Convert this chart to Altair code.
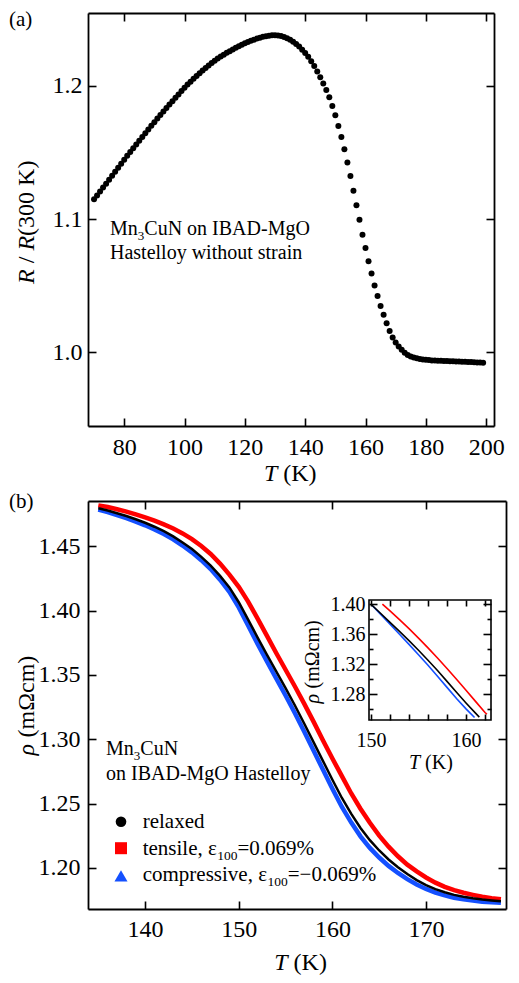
import altair as alt
import pandas as pd

FONT = "Liberation Serif"

# ---------------- panel (a): R/R(300 K) vs T ----------------
T_a = list(range(70, 200))
R_a = [
    1.1148, 1.1177, 1.1206, 1.1236, 1.1265, 1.1295, 1.1325, 1.1355, 1.1385, 1.1415,
    1.1445, 1.1474, 1.1503, 1.1531, 1.1559, 1.1587, 1.1615, 1.1643, 1.1671, 1.1699,
    1.1726, 1.1753, 1.1780, 1.1806, 1.1832, 1.1858, 1.1884, 1.1909, 1.1934, 1.1960,
    1.1985, 1.2008, 1.2030, 1.2052, 1.2073, 1.2094, 1.2114, 1.2133, 1.2152, 1.2170,
    1.2187, 1.2203, 1.2218, 1.2232, 1.2246, 1.2259, 1.2272, 1.2284, 1.2296, 1.2307,
    1.2318, 1.2328, 1.2337, 1.2345, 1.2353, 1.2360, 1.2366, 1.2371, 1.2375, 1.2378,
    1.2378, 1.2376, 1.2372, 1.2365, 1.2356, 1.2344, 1.2330, 1.2313, 1.2293, 1.2270,
    1.2245, 1.2216, 1.2183, 1.2147, 1.2107, 1.2063, 1.2017, 1.1968, 1.1913, 1.1848,
    1.1779, 1.1697, 1.1615, 1.1523, 1.1424, 1.1322, 1.1212, 1.1103, 1.0994, 1.0882,
    1.0783, 1.0683, 1.0591, 1.0502, 1.0422, 1.0348, 1.0283, 1.0219, 1.0161, 1.0112,
    1.0075, 1.0045, 1.0020, 0.9998, 0.9980, 0.9970, 0.9962, 0.9956, 0.9951, 0.9947,
    0.9944, 0.9942, 0.9940, 0.9939, 0.9938, 0.9937, 0.9936, 0.9935, 0.9934, 0.9933,
    0.9932, 0.9931, 0.9930, 0.9929, 0.9928, 0.9927, 0.9926, 0.9925, 0.9924, 0.9923,
]

# ---------------- panel (b): rho vs T ----------------
T_b = list(range(135, 179))
rho_relaxed = [
    1.4795, 1.4778, 1.4757, 1.4735, 1.4710, 1.4683, 1.4652, 1.4617, 1.4577, 1.4530,
    1.4478, 1.4418, 1.4350, 1.4270, 1.4180, 1.4065, 1.3930, 1.3792, 1.3658, 1.3527,
    1.3397, 1.3262, 1.3120, 1.2975, 1.2830, 1.2685, 1.2545, 1.2422, 1.2310, 1.2215,
    1.2135, 1.2065, 1.2005, 1.1952, 1.1905, 1.1866, 1.1835, 1.1810, 1.1790, 1.1775,
    1.1763, 1.1753, 1.1746, 1.1740,
]
rho_tensile = [
    1.4818, 1.4805, 1.4788, 1.4770, 1.4748, 1.4725, 1.4700, 1.4670, 1.4638, 1.4600,
    1.4555, 1.4502, 1.4440, 1.4365, 1.4280, 1.4185, 1.4070, 1.3940, 1.3805, 1.3670,
    1.3540, 1.3410, 1.3275, 1.3135, 1.2990, 1.2850, 1.2715, 1.2580, 1.2460, 1.2350,
    1.2250, 1.2165, 1.2090, 1.2025, 1.1972, 1.1925, 1.1885, 1.1852, 1.1826, 1.1806,
    1.1790, 1.1775, 1.1763, 1.1755,
]
rho_compressive = [
    1.4785, 1.4766, 1.4743, 1.4719, 1.4692, 1.4663, 1.4631, 1.4595, 1.4554, 1.4506,
    1.4453, 1.4392, 1.4323, 1.4240, 1.4145, 1.4025, 1.3885, 1.3742, 1.3606, 1.3472,
    1.3340, 1.3202, 1.3058, 1.2910, 1.2762, 1.2615, 1.2475, 1.2354, 1.2245, 1.2155,
    1.2080, 1.2015, 1.1960, 1.1912, 1.1870, 1.1836, 1.1808, 1.1786, 1.1768, 1.1755,
    1.1745, 1.1737, 1.1732, 1.1728,
]

# ---------------- inset ----------------
Tin_relaxed = [150, 151, 152, 153, 154, 155, 156, 157, 158, 159, 160, 161, 161.4]
rin_relaxed = [1.4000, 1.3880, 1.3758, 1.3638, 1.3515, 1.3388, 1.3255, 1.3117,
               1.2973, 1.2828, 1.2686, 1.2550, 1.2497]
Tin_tensile = [151.2, 152, 153, 154, 155, 156, 157, 158, 159, 160, 161, 162, 162.2]
rin_tensile = [1.4000, 1.3910, 1.3794, 1.3674, 1.3549, 1.3419, 1.3284, 1.3144,
               1.3001, 1.2855, 1.2707, 1.2559, 1.2535]
Tin_compressive = [150, 151, 152, 153, 154, 155, 156, 157, 158, 159, 160, 160.9]
rin_compressive = [1.4000, 1.3868, 1.3735, 1.3601, 1.3465, 1.3327, 1.3187, 1.3042,
                   1.2893, 1.2745, 1.2607, 1.2493]

# ---------------- ticks ----------------
xticks_a = [80, 100, 120, 140, 160, 180, 200]
yticks_a = [1.0, 1.1, 1.2]
xticks_b = [140, 150, 160, 170]
yticks_b = [1.20, 1.25, 1.30, 1.35, 1.40, 1.45]
xlabels_in = [150, 160]
xticks_in = [150, 152, 154, 156, 158, 160, 162]
yticks_in_major = [1.28, 1.32, 1.36, 1.40]
yticks_in_minor = [1.26, 1.30, 1.34, 1.38]

RED = "#ff0000"
BLUE = "#1450ff"

dfA = pd.DataFrame({"T": T_a, "R": R_a})
dfB_rel = pd.DataFrame({"T": T_b, "rho": rho_relaxed})
dfB_ten = pd.DataFrame({"T": T_b, "rho": rho_tensile})
dfB_com = pd.DataFrame({"T": T_b, "rho": rho_compressive})
dfI_rel = pd.DataFrame({"T": Tin_relaxed, "rho": rin_relaxed})
dfI_ten = pd.DataFrame({"T": Tin_tensile, "rho": rin_tensile})
dfI_com = pd.DataFrame({"T": Tin_compressive, "rho": rin_compressive})
DUMMY = pd.DataFrame({"k": [0]})


def txt(s, x, y, size, italic=False, angle=0, dx=0, dy=0):
    kw = dict(text=s, font=FONT, fontSize=size, align="left", baseline="alphabetic",
              color="black", dx=dx, dy=dy)
    if italic:
        kw["fontStyle"] = "italic"
    if angle:
        kw["angle"] = angle
    return alt.Chart(DUMMY).mark_text(**kw).encode(x=alt.value(x), y=alt.value(y))


def tick_ax(orient, offset, values, size, domain=False):
    return alt.Axis(orient=orient, offset=offset, values=values, ticks=True, tickSize=size,
                    tickWidth=1.6, tickColor="black", labels=False, domain=domain,
                    domainColor="black", domainWidth=1.8, grid=False, title=None, zindex=2)


def label_ax(orient, values, fmt, fs, pad, offset=0):
    return alt.Axis(orient=orient, offset=offset, values=values, ticks=False, tickSize=0,
                    labels=True, labelFont=FONT, labelFontSize=fs, labelColor="black",
                    labelPadding=pad, format=fmt, domain=False, grid=False, title=None,
                    zindex=2, labelFlush=False, labelOverlap=False)


def ax_layer(df, sx, sy, xaxis=None, yaxis=None):
    return alt.Chart(df).mark_point(opacity=0).encode(
        x=alt.X("T:Q", scale=sx, axis=xaxis),
        y=alt.Y(df.columns[1] + ":Q", scale=sy, axis=yaxis),
    )


# ================= panel (a) =================
WA, HA = 406, 413
sxA = alt.Scale(domain=[68.0, 202.6], nice=False, zero=False)
syA = alt.Scale(domain=[0.9448, 1.2545], nice=False, zero=False)

ptsA = alt.Chart(dfA).mark_circle(size=36, color="black", opacity=1).encode(
    x=alt.X("T:Q", scale=sxA, axis=None),
    y=alt.Y("R:Q", scale=syA, axis=None),
)
yA_t = 271
layersA = [
    ptsA,
    ax_layer(dfA, sxA, syA, xaxis=label_ax("bottom", xticks_a, "d", 24, 9)),
    ax_layer(dfA, sxA, syA, xaxis=tick_ax("top", -HA, xticks_a, 8, domain=True)),
    ax_layer(dfA, sxA, syA, xaxis=tick_ax("bottom", -HA, xticks_a, 8, domain=True)),
    ax_layer(dfA, sxA, syA, yaxis=label_ax("left", yticks_a, ".1f", 24, 6)),
    ax_layer(dfA, sxA, syA, yaxis=tick_ax("right", -WA, yticks_a, 8, domain=True)),
    ax_layer(dfA, sxA, syA, yaxis=tick_ax("left", -WA, yticks_a, 8, domain=True)),
    txt("(a)", -79, 12.8, 21),
    # x title
    txt("T", 176, HA + 55, 24, italic=True),
    txt("(K)", 176, HA + 55, 24, dx=19.3),
    # y title (rotated)
    txt("R", -54, yA_t, 24, italic=True, angle=270),
    txt("/", -54, yA_t, 24, angle=270, dx=20.7),
    txt("R", -54, yA_t, 24, italic=True, angle=270, dx=33.4),
    txt("(300 K)", -54, yA_t, 24, angle=270, dx=48.1),
    # annotation
    txt("Mn", 22, 221.6, 20),
    txt("3", 22, 221.6, 13, dx=27.8, dy=5),
    txt("CuN on IBAD-MgO", 22, 221.6, 20, dx=34.3),
    txt("Hastelloy without strain", 22, 246.4, 20),
]
panelA = alt.layer(*layersA).resolve_scale(x="independent", y="independent").resolve_axis(
    x="independent", y="independent").properties(width=WA, height=HA)

# ================= panel (b) =================
WB, HB = 418, 408
sxB = alt.Scale(domain=[133.9, 178.54], nice=False, zero=False)
syB = alt.Scale(domain=[1.168, 1.4852], nice=False, zero=False)

# inset frame in panel pixels
IX0, IX1, IY0, IY1 = 281, 403, 99, 219
sxI = alt.Scale(domain=[149.79, 162.63], range=[IX0, IX1], nice=False, zero=False)
syI = alt.Scale(domain=[1.2459, 1.4056], range=[IY1, IY0], nice=False, zero=False)


def line(df, sx, sy, color, width):
    return alt.Chart(df).mark_line(color=color, strokeWidth=width).encode(
        x=alt.X("T:Q", scale=sx, axis=None),
        y=alt.Y("rho:Q", scale=sy, axis=None),
    )


yB_t = 254.5
LX = 54.7
layersB = [
    line(dfB_ten, sxB, syB, RED, 4.5),
    line(dfB_com, sxB, syB, BLUE, 4.5),
    line(dfB_rel, sxB, syB, "black", 2.5),
    ax_layer(dfB_rel, sxB, syB, xaxis=label_ax("bottom", xticks_b, "d", 24, 8)),
    ax_layer(dfB_rel, sxB, syB, xaxis=tick_ax("top", -HB, xticks_b, 8, domain=True)),
    ax_layer(dfB_rel, sxB, syB, xaxis=tick_ax("bottom", -HB, xticks_b, 8, domain=True)),
    ax_layer(dfB_rel, sxB, syB, yaxis=label_ax("left", yticks_b, ".2f", 24, 8)),
    ax_layer(dfB_rel, sxB, syB, yaxis=tick_ax("right", -WB, yticks_b, 8, domain=True)),
    ax_layer(dfB_rel, sxB, syB, yaxis=tick_ax("left", -WB, yticks_b, 8, domain=True)),
    txt("(b)", -79, 6.5, 21),
    txt("T", 186.3, HB + 61, 24, italic=True),
    txt("(K)", 186.3, HB + 61, 24, dx=19.3),
    txt("\u03c1", -54, yB_t, 24, italic=True, angle=270),
    txt("(m\u03a9cm)", -54, yB_t, 24, angle=270, dx=18),
    txt("Mn", 18, 253.6, 20),
    txt("3", 18, 253.6, 13, dx=27.8, dy=5),
    txt("CuN", 18, 253.6, 20, dx=34.3),
    txt("on IBAD-MgO Hastelloy", 18, 279.1, 20),
    # legend
    alt.Chart(DUMMY).mark_point(shape="circle", filled=True, size=113, color="black", opacity=1)
    .encode(x=alt.value(33), y=alt.value(320.7)),
    alt.Chart(DUMMY).mark_point(shape="square", filled=True, size=144, color=RED, opacity=1)
    .encode(x=alt.value(33), y=alt.value(347.2)),
    alt.Chart(DUMMY).mark_point(shape="triangle-up", filled=True, size=170, color=BLUE, opacity=1)
    .encode(x=alt.value(33), y=alt.value(374.8)),
    txt("relaxed", LX, 327.2, 21),
    txt("tensile, \u03b5", LX, 353.5, 21),
    txt("100", LX, 353.5, 13.5, dx=74.5, dy=5),
    txt("=0.069%", LX, 353.5, 21, dx=94.8),
    txt("compressive, \u03b5", LX, 380.2, 21),
    txt("100", LX, 380.2, 13.5, dx=124.7, dy=5),
    txt("=\u22120.069%", LX, 380.2, 21, dx=145),
    # ----- inset -----
    alt.Chart(DUMMY).mark_rect(fill="white", stroke="black", strokeWidth=1.6).encode(
        x=alt.value(IX0), x2=alt.value(IX1), y=alt.value(IY0), y2=alt.value(IY1)),
    line(dfI_com, sxI, syI, BLUE, 1.6),
    line(dfI_ten, sxI, syI, RED, 1.6),
    line(dfI_rel, sxI, syI, "black", 1.6),
    ax_layer(dfI_rel, sxI, syI, xaxis=label_ax("bottom", xlabels_in, "d", 20, 10, offset=IY1 - HB)),
    ax_layer(dfI_rel, sxI, syI, xaxis=tick_ax("top", -IY1, xticks_in, 6)),
    ax_layer(dfI_rel, sxI, syI, xaxis=tick_ax("bottom", IY0 - HB, xticks_in, 6)),
    ax_layer(dfI_rel, sxI, syI, yaxis=label_ax("left", yticks_in_major, ".2f", 20, 4, offset=-IX0)),
    ax_layer(dfI_rel, sxI, syI, yaxis=tick_ax("right", IX0 - WB, yticks_in_major, 8)),
    ax_layer(dfI_rel, sxI, syI, yaxis=tick_ax("right", IX0 - WB, yticks_in_minor, 4)),
    ax_layer(dfI_rel, sxI, syI, yaxis=tick_ax("left", -IX1, yticks_in_major, 8)),
    ax_layer(dfI_rel, sxI, syI, yaxis=tick_ax("left", -IX1, yticks_in_minor, 4)),
    txt("T", 321, 268.4, 20, italic=True),
    txt("(K)", 321, 268.4, 20, dx=16.1),
    txt("\u03c1", 231, 202.4, 20, italic=True, angle=270),
    txt("(m\u03a9cm)", 231, 202.4, 20, angle=270, dx=15),
]
panelB = alt.layer(*layersB).resolve_scale(x="independent", y="independent").resolve_axis(
    x="independent", y="independent").properties(width=WB, height=HB)

chart = alt.vconcat(panelA, panelB, spacing=3).properties(
    padding={"left": 0, "top": 0, "right": 0, "bottom": 0}
).configure_view(stroke="transparent").configure(background="white")

chart.save("out.html", embed_options={"renderer": "svg", "actions": False})
